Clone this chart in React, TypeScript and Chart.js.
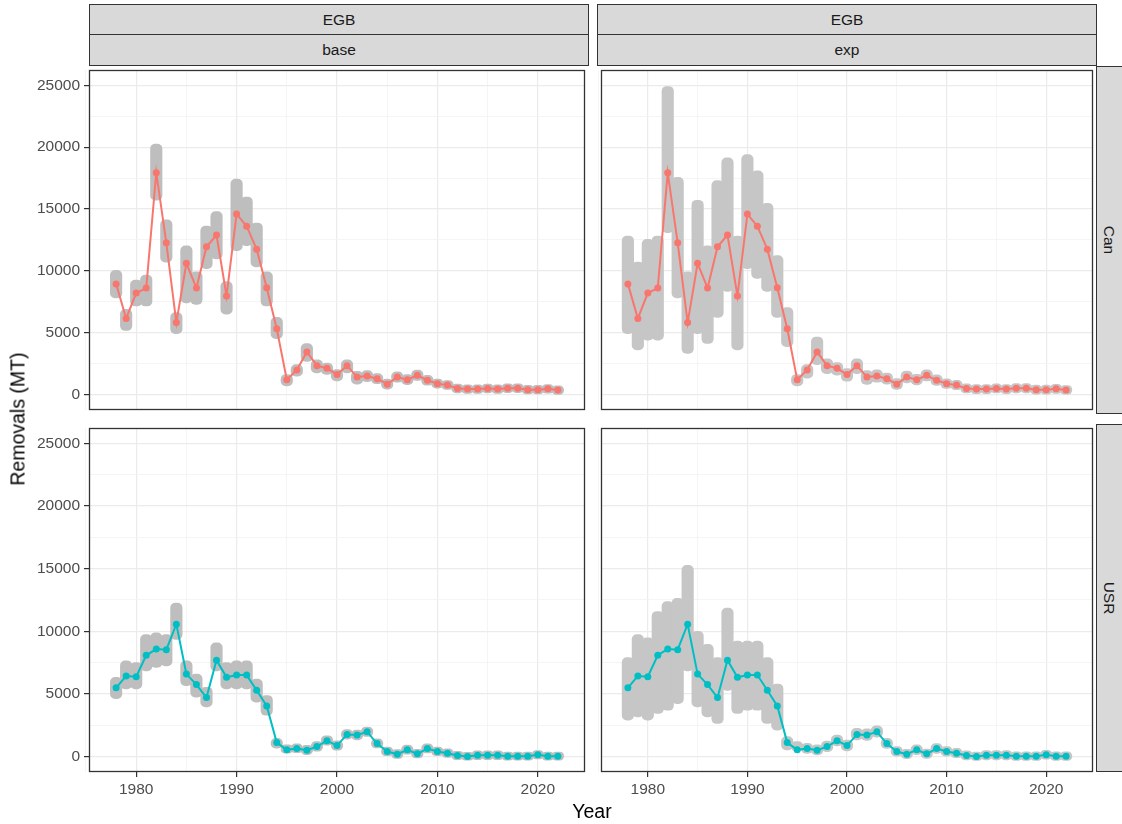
import React, { useEffect, useRef } from 'react';
import { Chart, registerables } from 'chart.js';
Chart.register(...registerables);

const years = [
  1978, 1979, 1980, 1981, 1982, 1983, 1984, 1985, 1986, 1987, 1988, 1989, 1990, 1991, 1992,
  1993, 1994, 1995, 1996, 1997, 1998, 1999, 2000, 2001, 2002, 2003, 2004, 2005, 2006, 2007,
  2008, 2009, 2010, 2011, 2012, 2013, 2014, 2015, 2016, 2017, 2018, 2019, 2020, 2021, 2022,
];

const xTickValues = [1975, 1980, 1985, 1990, 1995, 2000, 2005, 2010, 2015, 2020];
const yTickValues = [0, 2500, 5000, 7500, 10000, 12500, 15000, 17500, 20000, 22500, 25000];

// median removals (lines)
const canLine = [
  8950, 6160, 8210, 8610, 17930, 12270, 5820, 10610, 8610, 11950, 12900, 7980, 14590, 13610, 11750,
  8630, 5320, 1210, 2000, 3450, 2340, 2130, 1630, 2340, 1420, 1500, 1290, 850, 1420, 1210,
  1560, 1160, 890, 770, 500, 450, 450, 500, 450, 520, 520, 400, 400, 470, 370,
];
const usrLine = [
  5480, 6430, 6370, 8080, 8580, 8530, 10560, 6580, 5740, 4710, 7690, 6320, 6500, 6500, 5290,
  4030, 1110, 530, 630, 500, 790, 1260, 870, 1760, 1710, 1970, 1030, 395, 185, 530,
  210, 630, 395, 260, 80, 0, 105, 105, 105, 20, 20, 20, 130, 20, 20,
];

// visual extent of the grey simulation clouds
const canBaseHi = [
  10050, 6890, 9260, 9660, 20240, 14130, 6630, 12030, 9920, 13610, 14790, 9130, 17420, 15970, 13870,
  9920, 6240, 1630, 2420, 4130, 2820, 2550, 2030, 2820, 1890, 1950, 1700, 1250, 1850, 1620,
  1980, 1560, 1250, 1130, 850, 800, 800, 850, 800, 870, 870, 750, 750, 820, 720,
];
const canBaseLo = [
  7820, 5180, 7160, 7160, 15710, 10710, 4920, 7420, 7290, 10180, 10970, 6500, 11630, 12030, 10320,
  7160, 4530, 710, 1500, 2680, 1760, 1630, 1110, 1760, 850, 1050, 880, 450, 1000, 800,
  1140, 760, 530, 420, 150, 100, 100, 150, 100, 170, 170, 50, 50, 120, 20,
];
const canExpHi = [
  12820, 10710, 12550, 12820, 24900, 17550, 9920, 15710, 12030, 17290, 19130, 12820, 19400, 18080, 15450,
  11240, 7030, 1630, 2420, 4660, 2900, 2600, 2100, 2900, 1950, 2000, 1750, 1300, 1900, 1650,
  2000, 1600, 1280, 1150, 870, 820, 820, 870, 820, 890, 890, 770, 770, 840, 740,
];
const canExpLo = [
  4920, 3610, 4400, 4400, 13080, 7820, 3340, 4920, 4130, 6240, 8340, 3610, 10180, 9400, 8340,
  6240, 3870, 710, 1340, 2420, 1700, 1580, 1080, 1700, 820, 1000, 850, 420, 950, 780,
  1100, 740, 500, 400, 130, 80, 80, 130, 80, 150, 150, 30, 30, 100, 0,
];
const usrBaseHi = [
  6320, 7630, 7500, 9740, 9870, 9740, 12240, 7630, 6580, 5530, 9080, 7500, 7630, 7630, 6180,
  4870, 1450, 920, 1000, 880, 1180, 1650, 1250, 2150, 2100, 2350, 1400, 750, 550, 900,
  580, 1000, 750, 620, 420, 330, 450, 450, 450, 360, 360, 360, 480, 360, 360,
];
const usrBaseLo = [
  4610, 5390, 5390, 6840, 7110, 7240, 9340, 5660, 4740, 3950, 6840, 5390, 5390, 5390, 4340,
  3290, 660, 270, 300, 150, 420, 900, 500, 1380, 1330, 1600, 680, 60, -150, 180,
  -120, 280, 60, -80, -250, -300, -250, -250, -250, -300, -300, -300, -200, -300, -300,
];
const usrExpHi = [
  7900, 9740, 9480, 11580, 12370, 12630, 15270, 10000, 8950, 7900, 11840, 9210, 9210, 9210, 7900,
  5790, 1580, 1180, 1050, 920, 1220, 1700, 1300, 2250, 2200, 2450, 1450, 780, 580, 930,
  600, 1030, 780, 650, 450, 350, 470, 470, 470, 380, 380, 380, 500, 380, 380,
];
const usrExpLo = [
  2900, 3160, 2900, 3430, 3690, 4210, 6840, 3950, 3160, 2630, 5270, 3430, 3690, 3690, 2630,
  2110, 530, 400, 250, 120, 380, 850, 450, 1330, 1280, 1550, 640, 30, -170, 150,
  -150, 250, 30, -100, -270, -320, -270, -270, -270, -320, -320, -320, -220, -320, -320,
];

const FONT = "'Liberation Sans', Arial, Helvetica, sans-serif";
const RED = '#F8766D';
const CYAN = '#00BFC4';

const borderPlugin = {
  id: 'panelBorder',
  afterDraw(chart: any) {
    const { ctx, chartArea } = chart;
    ctx.save();
    ctx.strokeStyle = '#333333';
    ctx.lineWidth = 1.3;
    ctx.strokeRect(chartArea.left + 0.5, chartArea.top + 0.5, chartArea.right - chartArea.left - 1, chartArea.bottom - chartArea.top - 1);
    ctx.restore();
  },
};

type PanelProps = {
  left: number; top: number; width: number; height: number;
  showX: boolean; showY: boolean;
  line: number[]; color: string; lo: number[]; hi: number[]; grey: string;
};

function Panel(p: PanelProps) {
  const ref = useRef<HTMLCanvasElement>(null);
  useEffect(() => {
    if (!ref.current) return;
    const chart = new Chart(ref.current, {
      type: 'bar',
      data: {
        datasets: [
          {
            type: 'line',
            data: years.map((y, i) => ({ x: y, y: p.line[i] })),
            borderColor: p.color,
            backgroundColor: p.color,
            borderWidth: 2,
            pointRadius: 3.5,
            pointBorderWidth: 0,
            pointBackgroundColor: p.color,
            order: 0,
          } as any,
          {
            type: 'bar',
            data: years.map((y, i) => ({ x: y, y: [p.lo[i], p.hi[i]] })),
            backgroundColor: p.grey,
            borderWidth: 0,
            borderRadius: 5,
            borderSkipped: false,
            barThickness: 11.5,
            order: 1,
          } as any,
        ],
      },
      options: {
        animation: false,
        responsive: false,
        maintainAspectRatio: false,
        layout: { padding: 0 },
        plugins: { legend: { display: false }, tooltip: { enabled: false } },
        scales: {
          x: {
            type: 'linear',
            min: 1975.3,
            max: 2024.7,
            offset: false,
            afterBuildTicks: (s: any) => { s.ticks = xTickValues.map((v) => ({ value: v })); },
            afterFit: (s: any) => {
              s.height = p.showX ? 30 : 0;
              s.paddingLeft = 0; s.paddingRight = 0; s.paddingTop = 0; s.paddingBottom = 0;
            },
            border: { display: false },
            grid: {
              offset: false,
              color: (c: any) => (c.tick && c.tick.value % 10 === 0 ? '#EBEBEB' : '#F3F3F3'),
              lineWidth: (c: any) => (c.tick && c.tick.value % 10 === 0 ? 1.2 : 0.8),
              drawTicks: p.showX,
              tickLength: 5,
              tickColor: (c: any) => (c.tick && c.tick.value % 10 === 0 ? '#333333' : 'rgba(0,0,0,0)'),
              tickWidth: 1.2,
            },
            ticks: {
              display: p.showX,
              autoSkip: false,
              maxRotation: 0,
              padding: 3,
              color: '#4D4D4D',
              font: { family: FONT, size: 15.5 },
              callback: (v: any) => (Number(v) % 10 === 0 ? String(v) : ''),
            },
          },
          y: {
            type: 'linear',
            min: -1240,
            max: 26230,
            afterBuildTicks: (s: any) => { s.ticks = yTickValues.map((v) => ({ value: v })); },
            afterFit: (s: any) => {
              s.width = p.showY ? 89 : 0;
              s.paddingLeft = 0; s.paddingRight = 0; s.paddingTop = 0; s.paddingBottom = 0;
            },
            border: { display: false },
            grid: {
              color: (c: any) => (c.tick && c.tick.value % 5000 === 0 ? '#EBEBEB' : '#F3F3F3'),
              lineWidth: (c: any) => (c.tick && c.tick.value % 5000 === 0 ? 1.2 : 0.8),
              drawTicks: p.showY,
              tickLength: 5,
              tickColor: (c: any) => (c.tick && c.tick.value % 5000 === 0 ? '#333333' : 'rgba(0,0,0,0)'),
              tickWidth: 1.2,
            },
            ticks: {
              display: p.showY,
              autoSkip: false,
              padding: 4,
              color: '#4D4D4D',
              font: { family: FONT, size: 15.5 },
              callback: (v: any) => (Number(v) % 5000 === 0 ? String(v) : ''),
            },
          },
        },
      } as any,
      plugins: [borderPlugin],
    });
    return () => chart.destroy();
  }, []);
  return (
    <canvas
      ref={ref}
      width={p.width}
      height={p.height}
      style={{ position: 'absolute', left: p.left, top: p.top, width: p.width, height: p.height }}
    />
  );
}

const stripBase: React.CSSProperties = {
  position: 'absolute',
  boxSizing: 'border-box',
  background: '#D9D9D9',
  border: '1.3px solid #333333',
  color: '#1A1A1A',
  fontFamily: FONT,
  fontSize: 15.5,
  display: 'flex',
  alignItems: 'center',
  justifyContent: 'center',
};

function TopStrip({ left, label1, label2 }: { left: number; label1: string; label2: string }) {
  return (
    <>
      <div style={{ ...stripBase, left, top: 4, width: 500, height: 31 }}>{label1}</div>
      <div style={{ ...stripBase, left, top: 34, width: 500, height: 32 }}>{label2}</div>
    </>
  );
}

function SideStrip({ top, label }: { top: number; label: string }) {
  return (
    <div style={{ ...stripBase, left: 1096, top, width: 32, height: 348 }}>
      <span style={{ display: 'inline-block', transform: 'rotate(90deg)', marginRight: 6, whiteSpace: 'nowrap' }}>{label}</span>
    </div>
  );
}

export default function App() {
  return (
    <div style={{ position: 'absolute', left: 0, top: 0, width: 1122, height: 824, overflow: 'hidden', background: '#FFFFFF' }}>
      <TopStrip left={89} label1="EGB" label2="base" />
      <TopStrip left={597} label1="EGB" label2="exp" />
      <SideStrip top={66} label="Can" />
      <SideStrip top={424} label="USR" />

      <Panel left={0} top={66} width={589} height={348} showX={false} showY={true}
        line={canLine} color={RED} lo={canBaseLo} hi={canBaseHi} grey="#BEBEBE" />
      <Panel left={597} top={66} width={500} height={348} showX={false} showY={false}
        line={canLine} color={RED} lo={canExpLo} hi={canExpHi} grey="#C6C6C6" />
      <Panel left={0} top={424} width={589} height={378} showX={true} showY={true}
        line={usrLine} color={CYAN} lo={usrBaseLo} hi={usrBaseHi} grey="#BEBEBE" />
      <Panel left={597} top={424} width={500} height={378} showX={true} showY={false}
        line={usrLine} color={CYAN} lo={usrExpLo} hi={usrExpHi} grey="#C6C6C6" />

      <div style={{ position: 'absolute', left: 18, top: 419, transform: 'translate(-50%, -50%) rotate(-90deg)', fontFamily: FONT, fontSize: 19.5, color: '#000', whiteSpace: 'nowrap' }}>
        Removals (MT)
      </div>
      <div style={{ position: 'absolute', left: 592, top: 811, transform: 'translate(-50%, -50%)', fontFamily: FONT, fontSize: 19.5, color: '#000', whiteSpace: 'nowrap' }}>
        Year
      </div>
    </div>
  );
}
